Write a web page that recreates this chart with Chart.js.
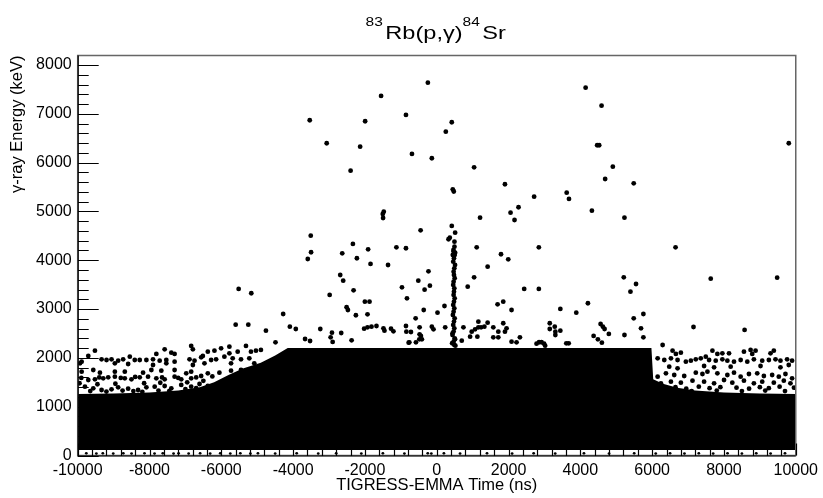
<!DOCTYPE html>
<html>
<head>
<meta charset="utf-8">
<script src="https://cdn.jsdelivr.net/npm/chart.js@4.4.1/dist/chart.umd.min.js"></script>
<style>
  html, body { margin: 0; padding: 0; background: #fff; }
  #wrap { width: 823px; height: 498px; }
</style>
</head>
<body>
<div id="wrap"><canvas id="chart" width="823" height="498"></canvas></div>
<script>
// axis ranges and ticks (time in ns, energy in keV)
const xMin = -10000, xMax = 10000;
const yMin = 0, yMax = 8195;
const xTicks = [-10000, -8000, -6000, -4000, -2000, 0, 2000, 4000, 6000, 8000, 10000];
const yTicks = [0, 1000, 2000, 3000, 4000, 5000, 6000, 7000, 8000];
const xMinorStep = 400, yMinorStep = 200;

// upper edge of the saturated (solid black) band
const denseEdgeX = [-10000, -9000, -8000, -7200, -6600, -6200, -5800, -5400, -4900, -4500, -4150, 5980, 6030, 6300, 6700, 7200, 8000, 9000, 10000];
const denseEdgeY = [1260, 1270, 1290, 1330, 1400, 1500, 1650, 1780, 1900, 2050, 2200, 2200, 1560, 1470, 1390, 1330, 1290, 1270, 1260];
const denseFloor = 115;

// isolated events well above the band
const sparseHigh = [
  [-247,7639],[-1550,7366],[-3537,6868],[-1994,6848],[-857,6977],[419,6827],[253,6635],[-3065,6397],
  [-2133,6327],[-690,6178],[-136,6090],[-2399,5836],[1041,5905],[447,5454],[475,5409],[1900,5557],
  [2713,5303],[2278,5086],[2056,4975],[2167,4825],[1207,4873],[-1475,4995],[-1503,4948],[-1494,4866],
  [-449,4614],[419,4703],[513,4565],[364,4463],[328,4430],[-3509,4504],[-2335,4334],[-3500,4164],
  [-2632,4143],[-1911,4225],[-1123,4266],[-857,4246],[1113,4266],[1790,4123],[2844,4266],[-3592,4026],
  [-2224,4041],[1992,4020],[4147,7536],[4591,7167],[4469,6356],[4525,6356],[9806,6397],[4905,5917],
  [4691,5665],[5487,5577],[3620,5385],[3684,5256],[4322,5016],[5229,4873],[6652,4266],
  [-1844,3924],[-1356,3903],[-2688,3698],[-2605,3582],[-5517,3412],[-5165,3324],[-2982,3289],[-2316,3385],
  [-968,3446],[-513,3582],[-338,3398],[-230,3773],[-829,3221],[-2002,3151],[-1872,3151],[-2510,3037],
  [-2474,2981],[-2252,2873],[-1928,2893],[-362,2981],[-4277,2899],[-588,2811],[-190,3479],[22,2926],
  [216,3063],[1418,3868],[1041,3651],[863,3459],[2436,3412],[2844,3412],[1695,3098],[1853,3152],
  [2084,2981],[3443,3002],[3887,2926],[4211,3119],[5210,3651],[5551,3514],[5396,3356],[5756,2899],
  [5487,2811],[7632,3623],[9482,3643]
];

// events just above the band
const sparseLow = [
  [-5600,2680],[-5248,2680],[-4091,2639],[-3925,2592],[-4757,2557],[-3243,2592],[-2918,2516],[-2955,2422],
  [-2899,2326],[-2660,2510],[-2022,2598],[-1928,2627],[-1817,2639],[-1678,2653],[-1484,2606],[-1456,2557],
  [-1273,2598],[-1206,2545],[-857,2653],[-846,2537],[-718,2530],[-477,2627],[-477,2483],[-3667,2387],
  [-3528,2346],[-4491,2319],[-2371,2360],[-763,2319],[-579,2319],[-413,2381],[-441,2449],[-485,2381],
  [-782,2311],[-136,2640],[-90,2586],[236,2627],[697,2352],[744,2627],[930,2434],[974,2537],
  [1068,2586],[1160,2627],[1235,2627],[1327,2640],[1160,2742],[1418,2721],[1576,2627],[1715,2537],
  [1900,2537],[1945,2606],[1853,2709],[1132,2434],[2084,2332],[2223,2319],[1576,2422],[1715,2422],
  [2317,2422],[2780,2290],[2850,2320],[2920,2320],[2990,2290],[3020,2250],[3148,2709],[3148,2592],
  [3287,2639],[3304,2537],[3443,2557],[3304,2469],[3609,2299],[3676,2299],[4370,2449],[4489,2381],
  [4600,2311],[4564,2694],[4628,2639],[4675,2592],[4794,2490],[5229,2469],[5690,2606],[5756,2422],
  [7152,2633],[8575,2572]
];

// vertical streak near +450 ns
const streak = [
  [494,4381],[494,4278],[466,4211],[513,4155],[448,4108],[470,4177],[500,4109],[480,4040],[460,3972],
  [510,3904],[490,3835],[470,3767],[480,3699],[500,3631],[470,3562],[460,3494],[490,3426],[480,3357],
  [470,3289],[500,3221],[480,3152],[460,3084],[490,3016],[470,2947],[450,2879],[500,2811],[480,2743],
  [460,2674],[490,2606],[470,2538],[440,2469],[500,2401],[470,2333],[490,2265],[440,2500],[510,2380],
  [430,2300],[520,2250]
];

// left wing (t < -4000 ns) scatter above the band
const leftWing = [
  [-9520,2148],[-7810,2080],[-7578,2175],[-7393,2107],[-7301,2080],[-6839,2244],[-6792,2175],[-6515,2039],
  [-6376,2128],[-6191,2148],[-6006,2196],[-5775,2230],[-5775,2093],[-5544,2128],[-5313,2244],[-5174,2128],
  [-5035,2148],[-4897,2162],
  [-9890,1923],[-9705,2039],[-9335,1970],[-9197,1957],[-9058,1970],[-8873,1943],[-8734,1970],[-8549,2025],
  [-8411,1957],[-8272,1957],[-8087,1957],[-7902,1970],[-7717,1943],[-7532,1957],[-7301,1923],[-6885,1970],
  [-6746,1943],[-6561,2011],[-6284,1957],[-6145,1970],[-5914,2025],[-5683,1991],[-5452,1970],[-5220,1991],
  [-9936,1888],[-8965,1888],[-8595,1875],[-7902,1854],[-7532,1888],[-6792,1854],[-6469,1888],[-5729,1888],
  [-5082,1888],
  [-9890,1718],[-9566,1752],[-9381,1697],[-8965,1718],[-8688,1718],[-8179,1697],[-7948,1752],[-7671,1738],
  [-7301,1752],[-6977,1684],[-6839,1718],[-6376,1684],[-6053,1697],[-5729,1738],[-5452,1752],[-5174,1766],
  [-9705,1547],[-9520,1561],[-9289,1581],[-9150,1602],[-8965,1615],[-8688,1581],[-8503,1561],[-8272,1602],
  [-8041,1615],[-7810,1581],[-7578,1561],[-7301,1615],[-7116,1561],[-6839,1581],[-6561,1629],
  [-9900,1590],[-9400,1600],[-8800,1590],[-8400,1610],[-7650,1600],[-7200,1590],[-6700,1600],[-6250,1620],
  [-9798,1410],[-9566,1376],[-9335,1342],[-9058,1356],[-8873,1397],[-8595,1369],[-8318,1342],[-8087,1397],
  [-7856,1410],[-7578,1424],[-7393,1376],[-7116,1445],[-6839,1410],[-6607,1465],[-6376,1424],
  [-9650,1320],[-9200,1310],[-8750,1330],[-8450,1320],[-8200,1305],[-7750,1330],[-7450,1320],[-7000,1360],
  [-6700,1380],[-9950,1480],[-9450,1460],[-8950,1470],[-8150,1480],[-7700,1490],[-6950,1500],[-6500,1530]
];

// right wing (t > 6000 ns) scatter above the band
const rightWing = [
  [6292,2264],[6569,2148],[6661,2080],[6800,2107],[7679,2148],[7817,2080],[7956,2093],[8141,2093],
  [8557,2128],[8742,2162],[8881,2148],[8788,2080],[9297,2093],[9389,2148],
  [6153,1991],[6338,1957],[6523,1991],[6708,1957],[6939,1923],[7078,1943],[7216,1970],[7355,1991],
  [7494,2025],[7586,1957],[7771,1943],[7956,1970],[8095,1943],[8280,1923],[8465,1957],[8650,1923],
  [8834,1970],[9066,1943],[9251,1957],[9436,1970],[9574,1943],[9759,1970],[9898,1943],
  [6476,1820],[6708,1786],[7447,1834],[7725,1807],[8187,1820],[9019,1834],[9574,1807],[9805,1854],
  [6153,1615],[6384,1684],[6615,1649],[6893,1629],[7216,1697],[7401,1670],[7540,1718],[7817,1684],
  [8095,1649],[8280,1697],[8465,1615],[8696,1670],[8927,1684],[9112,1629],[9343,1649],[9528,1615],
  [9713,1670],[9898,1581],
  [6245,1479],[6523,1513],[6800,1492],[7124,1533],[7447,1513],[7725,1479],[8002,1547],[8233,1492],
  [8557,1533],[8834,1479],[9066,1513],[9389,1492],[9667,1533],[9852,1479],
  [6300,1380],[6650,1400],[6950,1370],[7300,1410],[7600,1380],[7900,1400],[8350,1390],[8700,1370],
  [9000,1400],[9250,1380],[9550,1410],[9950,1390],[6450,1330],[7100,1320],[7800,1330],[8500,1320],
  [9150,1330],[9700,1320]
];

// sparse events in the lowest bin, below the saturated band
const bottomRow = [
  [-9760,45],[-9480,40],[-9300,45],[-9010,40],[-8730,45],[-8500,40],[-8140,45],[-7860,40],[-7630,45],
  [-7330,40],[-7190,45],[-6910,40],[-6590,45],[-6310,40],[-6030,45],[-5750,40],[-5470,45],[-5190,40],
  [-4980,45],[-4500,40],[-3900,45],[-3300,40],[-2800,45],[-2100,40],[-1500,45],[-900,40],[-250,45],
  [-150,40],[200,45],[650,40],[1400,45],[2100,40],[2700,45],[3300,40],[4100,45],[4800,40],[5500,45],
  [6100,40],[6500,45],[6900,40],[7300,45],[7700,40],[8100,45],[8500,40],[8900,45],[9300,40],[9700,45]
];

const toXY = arr => arr.map(p => ({ x: p[0], y: p[1] }));
const font = '"Liberation Sans", Arial, Helvetica, sans-serif';

const markStyle = {
  type: 'scatter',
  pointRadius: 2.4,
  pointHoverRadius: 2.4,
  pointBackgroundColor: '#000',
  pointBorderWidth: 0,
  showLine: false
};

// ROOT-like frame: grey box, black axes, ticks pointing inward, title with superscripts
const rootFrame = {
  id: 'rootFrame',
  afterDraw(chart) {
    const ctx = chart.ctx;
    const a = chart.chartArea;
    const xs = chart.scales.x, ys = chart.scales.y;
    ctx.save();
    ctx.strokeStyle = '#666';
    ctx.lineWidth = 1.5;
    ctx.strokeRect(a.left, a.top, a.right - a.left, a.bottom - a.top);
    ctx.restore();

    ctx.save();
    ctx.strokeStyle = '#000';
    ctx.lineWidth = 1.2;
    ctx.beginPath();
    ctx.moveTo(a.left + 0.5, a.top);
    ctx.lineTo(a.left + 0.5, a.bottom + 0.5);
    ctx.lineTo(a.right, a.bottom + 0.5);
    for (let v = yMin; v <= yMax; v += yMinorStep) {
      const py = Math.round(ys.getPixelForValue(v)) + 0.5;
      const len = (v % 1000 === 0) ? 21 : 11;
      ctx.moveTo(a.left, py);
      ctx.lineTo(a.left + len, py);
    }
    for (let v = xMin; v <= xMax; v += xMinorStep) {
      const px = Math.round(xs.getPixelForValue(v)) + 0.5;
      const len = (v % 2000 === 0) ? 12 : 6;
      ctx.moveTo(px, a.bottom);
      ctx.lineTo(px, a.bottom - len);
    }
    ctx.stroke();
    ctx.restore();

    const parts = [
      { t: '83', sup: true }, { t: 'Rb(p,\u03b3)' }, { t: '84', sup: true }, { t: 'Sr' }
    ];
    const mainFont = '19px ' + font, supFont = '12.5px ' + font;
    const sx = 1.24;
    ctx.save();
    let w = 0;
    parts.forEach(p => {
      ctx.font = p.sup ? supFont : mainFont;
      p.w = ctx.measureText(p.t).width + (p.sup ? 2 : 0);
      w += p.w;
    });
    const cx = (a.left + a.right) / 2 - 1;
    ctx.translate(cx - w * sx / 2, 0);
    ctx.scale(sx, 1);
    ctx.fillStyle = '#000';
    ctx.textBaseline = 'alphabetic';
    let xx = 0;
    parts.forEach(p => {
      ctx.font = p.sup ? supFont : mainFont;
      ctx.fillText(p.t, xx, p.sup ? 25.5 : 38.5);
      xx += p.w;
    });
    ctx.restore();
  }
};

const plainLabel = v => String(v);

new Chart(document.getElementById('chart'), {
  type: 'scatter',
  data: {
    datasets: [
      {
        type: 'line',
        label: 'dense',
        data: denseEdgeX.map((t, i) => ({ x: t, y: denseEdgeY[i] })),
        borderWidth: 0,
        borderColor: '#000',
        backgroundColor: '#000',
        pointRadius: 0,
        tension: 0,
        fill: { value: denseFloor }
      },
      Object.assign({ label: 'high', data: toXY(sparseHigh) }, markStyle),
      Object.assign({ label: 'low', data: toXY(sparseLow) }, markStyle),
      Object.assign({ label: 'streak', data: toXY(streak) }, markStyle),
      Object.assign({ label: 'left', data: toXY(leftWing) }, markStyle),
      Object.assign({ label: 'right', data: toXY(rightWing) }, markStyle),
      Object.assign({ label: 'bottom', data: toXY(bottomRow) }, markStyle, { pointRadius: 1.4 })
    ]
  },
  options: {
    responsive: false,
    animation: false,
    devicePixelRatio: 1,
    layout: { padding: { top: 55.5, right: 24.5, left: 0, bottom: 0 } },
    plugins: {
      legend: { display: false },
      title: { display: false },
      tooltip: { enabled: false }
    },
    scales: {
      x: {
        type: 'linear',
        min: xMin,
        max: xMax,
        afterBuildTicks: s => { s.ticks = xTicks.map(v => ({ value: v })); },
        afterFit: s => { s.height = 42.5; },
        grid: { display: false, drawTicks: false },
        border: { display: false },
        ticks: {
          color: '#000',
          font: { family: font, size: 16 },
          padding: 5,
          autoSkip: false,
          maxRotation: 0,
          callback: plainLabel
        },
        title: {
          display: true,
          text: 'TIGRESS-EMMA Time (ns)',
          color: '#000',
          font: { family: font, size: 16.5 },
          padding: { top: 0, bottom: 3 }
        }
      },
      y: {
        type: 'linear',
        min: yMin,
        max: yMax,
        afterBuildTicks: s => { s.ticks = yTicks.map(v => ({ value: v })); },
        afterFit: s => { s.width = 77.7; },
        grid: { display: false, drawTicks: false },
        border: { display: false },
        ticks: {
          color: '#000',
          font: { family: font, size: 16 },
          padding: 6,
          autoSkip: false,
          callback: plainLabel
        },
        title: {
          display: true,
          text: '\u03b3-ray Energy (keV)',
          align: 'end',
          color: '#000',
          font: { family: font, size: 16.5 },
          padding: { top: 7.5, bottom: 0 }
        }
      }
    }
  },
  plugins: [rootFrame]
});
</script>
</body>
</html>
